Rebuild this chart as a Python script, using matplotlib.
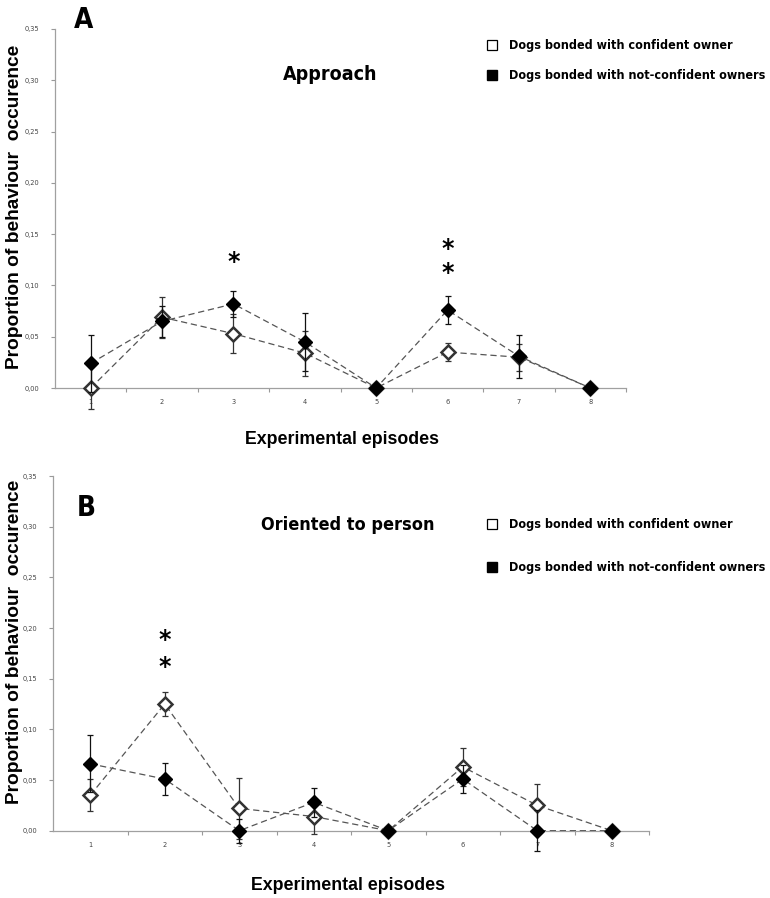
import matplotlib
matplotlib.use('Agg')
import matplotlib.pyplot as plt
from matplotlib import font_manager
from matplotlib.lines import Line2D
from matplotlib.ticker import FuncFormatter, FixedLocator

episodes = [1, 2, 3, 4, 5, 6, 7, 8]

# Panel A - Approach
a_conf = [0.000, 0.069, 0.053, 0.034, 0.000, 0.035, 0.030, 0.000]
a_conf_err = [0.020, 0.020, 0.019, 0.022, 0.000, 0.009, 0.013, 0.000]
a_notc = [0.024, 0.065, 0.082, 0.045, 0.000, 0.076, 0.031, 0.000]
a_notc_err = [0.028, 0.015, 0.013, 0.028, 0.000, 0.014, 0.021, 0.000]
a_stars = [(3, 0.123), (6, 0.136), (6, 0.112)]

# Panel B - Oriented to person
b_conf = [0.035, 0.125, 0.022, 0.014, 0.000, 0.063, 0.025, 0.000]
b_conf_err = [0.016, 0.012, 0.030, 0.017, 0.000, 0.019, 0.021, 0.000]
b_notc = [0.066, 0.051, 0.000, 0.028, 0.000, 0.051, 0.000, 0.000]
b_notc_err = [0.028, 0.016, 0.012, 0.014, 0.000, 0.014, 0.020, 0.000]
b_stars = [(2, 0.188), (2, 0.162)]

legend_labels = ['Dogs bonded with confident owner',
                 'Dogs bonded with not-confident owners']

available = {f.name for f in font_manager.fontManager.ttflist}
if 'Liberation Sans Narrow' in available:
    narrow = dict(family='Liberation Sans Narrow', fontweight='bold')
    leg_prop = dict(family='Liberation Sans Narrow', weight='bold', size=11.5)
else:
    narrow = dict(family='DejaVu Sans', fontweight='bold', fontstretch='condensed')
    leg_prop = dict(family='DejaVu Sans', weight='bold', stretch='condensed', size=9.0)
label_font = dict(family='Liberation Sans', fontweight='bold')

W, H = 770, 898
fig = plt.figure(figsize=(W / 100, H / 100), dpi=100)


def fx(x):
    return x / W


def fy(y):
    return 1 - y / H


def panel(rect, conf, conf_err, notc, notc_err, stars):
    ax = fig.add_axes(rect)
    ax.plot(episodes, conf, linestyle=(0, (5, 3)), color='#555555', lw=0.9, zorder=2)
    ax.errorbar(episodes, conf, yerr=conf_err, fmt='none', ecolor='#333333',
                elinewidth=0.9, capsize=2.5, capthick=0.9, zorder=3, clip_on=False)
    ax.plot(episodes, conf, linestyle='none', marker='D', markersize=7,
            markerfacecolor='white', markeredgecolor='#333333', markeredgewidth=1.8,
            zorder=4, clip_on=False)
    ax.plot(episodes, notc, linestyle=(0, (5, 3)), color='#555555', lw=0.9, zorder=5)
    ax.errorbar(episodes, notc, yerr=notc_err, fmt='none', ecolor='#111111',
                elinewidth=0.9, capsize=2.5, capthick=0.9, zorder=6, clip_on=False)
    ax.plot(episodes, notc, linestyle='none', marker='D', markersize=7.5,
            color='black', zorder=7, clip_on=False)
    for x, y in stars:
        ax.text(x, y, '*', ha='center', va='center', fontsize=17,
                fontweight='bold', family='DejaVu Sans')

    ax.set_xlim(0.5, 8.5)
    ax.set_ylim(0, 0.35)
    ax.set_yticks([0, 0.05, 0.10, 0.15, 0.20, 0.25, 0.30, 0.35])
    ax.yaxis.set_major_formatter(FuncFormatter(lambda v, p: f'{v:.2f}'.replace('.', ',')))
    ax.set_xticks(episodes)
    ax.xaxis.set_minor_locator(FixedLocator([1.5, 2.5, 3.5, 4.5, 5.5, 6.5, 7.5, 8.5]))
    ax.tick_params(axis='x', which='major', length=0, labelsize=4.8,
                   labelcolor='#444444', pad=8)
    ax.tick_params(axis='x', which='minor', length=3, color='#999999', width=0.8)
    ax.tick_params(axis='y', length=3, color='#999999', width=0.8,
                   labelsize=4.8, labelcolor='#444444', pad=8)
    for s in ['top', 'right']:
        ax.spines[s].set_visible(False)
    for s in ['left', 'bottom']:
        ax.spines[s].set_color('#a0a0a0')
        ax.spines[s].set_linewidth(0.9)
    return ax


ax_a = panel([fx(55), fy(388), fx(571), 359 / H],
             a_conf, a_conf_err, a_notc, a_notc_err, a_stars)
ax_b = panel([fx(53), fy(830.7), fx(596), 354.7 / H],
             b_conf, b_conf_err, b_notc, b_notc_err, b_stars)

handles = [Line2D([], [], linestyle='none', marker='s', markersize=6.5,
                  markerfacecolor='white', markeredgecolor='black', markeredgewidth=0.9),
           Line2D([], [], linestyle='none', marker='s', markersize=6.5,
                  markerfacecolor='black', markeredgecolor='black')]

fig.legend(handles, legend_labels, loc='upper left',
           bbox_to_anchor=(fx(481), fy(33)), frameon=False, prop=leg_prop,
           handlelength=0.8, handletextpad=0.9, labelspacing=1.35, borderpad=0)
fig.legend(handles, legend_labels, loc='upper left',
           bbox_to_anchor=(fx(481), fy(512)), frameon=False, prop=leg_prop,
           handlelength=0.8, handletextpad=0.9, labelspacing=2.4, borderpad=0)

fig.text(fx(84), fy(20), 'A', ha='center', va='center', fontsize=20, **narrow)
fig.text(fx(86), fy(508), 'B', ha='center', va='center', fontsize=20, **narrow)
fig.text(fx(330), fy(74), 'Approach', ha='center', va='center', fontsize=14, **narrow)
fig.text(fx(348), fy(525), 'Oriented to person', ha='center', va='center',
         fontsize=13, **narrow)

fig.text(fx(15), fy(207), 'Proportion of behaviour  occurence', rotation=90,
         ha='center', va='center', fontsize=13.8, **label_font)
fig.text(fx(15), fy(642), 'Proportion of behaviour  occurence', rotation=90,
         ha='center', va='center', fontsize=13.8, **label_font)
fig.text(fx(342), fy(440), 'Experimental episodes', ha='center', va='center',
         fontsize=12.8, **label_font)
fig.text(fx(348), fy(885), 'Experimental episodes', ha='center', va='center',
         fontsize=12.8, **label_font)

fig.savefig('out.png', dpi=100)
